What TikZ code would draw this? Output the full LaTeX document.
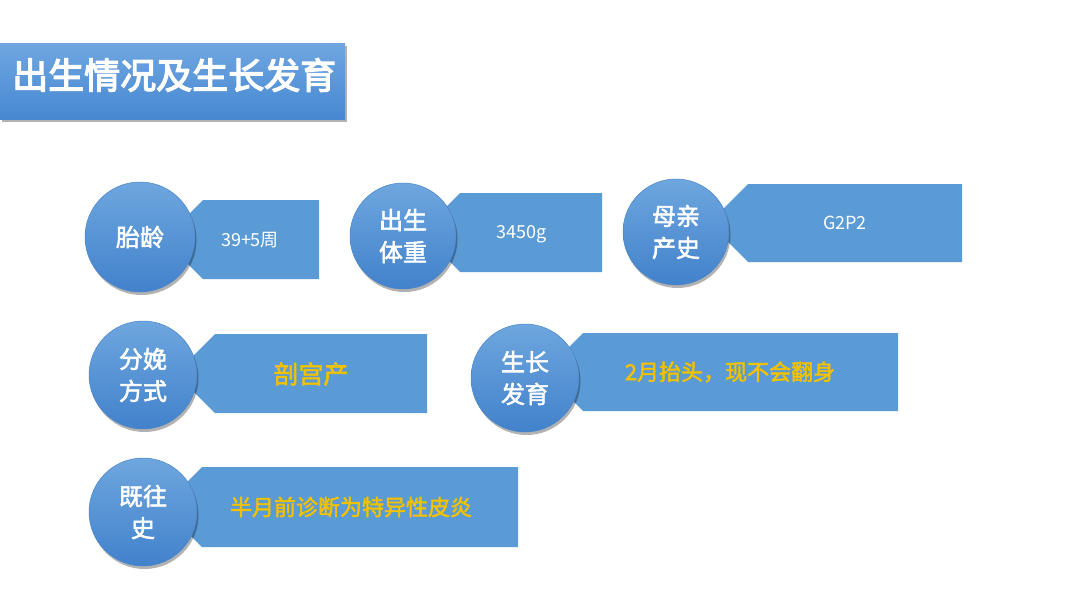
\documentclass[tikz,border=0pt]{standalone}
\usepackage{fontspec}
\setmainfont{Noto Sans CJK SC}
\newfontfamily\cjkbold{Noto Sans CJK SC}[FakeBold=2.2]
\newfontfamily\cjkheavy{Noto Sans CJK SC}[FakeBold=3.5]
\usetikzlibrary{shadows}
\definecolor{bannerblue}{RGB}{91,155,213}
\definecolor{discTop}{RGB}{110,166,222}
\definecolor{discBot}{RGB}{66,130,204}
\definecolor{discEdge}{RGB}{74,134,202}
\definecolor{titleTop}{RGB}{112,166,224}
\definecolor{titleBot}{RGB}{70,136,210}
\definecolor{gold}{RGB}{242,194,0}
\tikzset{
  banner/.style={fill=bannerblue},
  disc/.style={circle, minimum size=#1, inner sep=0pt, top color=discTop, bottom color=discBot,
    draw=discEdge, line width=0.5pt,
    drop shadow={shadow xshift=1.5pt, shadow yshift=-3pt, opacity=0.3, fill=black},
    text=white, font=\cjkbold\fontsize{24}{32}\selectfont, align=center},
  plain/.style={text=white, font=\fontsize{18}{20}\selectfont},
  goldtxt/.style={text=gold, font=\cjkbold\fontsize{#1}{26}\selectfont},
}
\begin{document}
\begin{tikzpicture}[x=1pt,y=-1pt]
\useasboundingbox[fill=white] (0,0) rectangle (1080,608);
% title
\node[draw=none, minimum width=345pt, minimum height=76pt, anchor=north west, inner sep=0pt,
  top color=titleTop, bottom color=titleBot,
  drop shadow={shadow xshift=2pt, shadow yshift=-3pt, opacity=0.3, fill=black}] (title) at (0,43) {};
\node[anchor=west, text=white, font=\cjkheavy\fontsize{36}{40}\selectfont, inner sep=0pt] (titletext) at (12,75) {出生情况及生长发育};

% banners
\fill[banner] (203,200) -- (319,200) -- (319,279) -- (203,279) -- (163.5,239.5) -- cycle;
\fill[banner] (460,193) -- (602,193) -- (602,272) -- (460,272) -- (420.5,232.5) -- cycle;
\fill[banner] (748,184) -- (962,184) -- (962,262) -- (748,262) -- (709,223) -- cycle;
\fill[banner] (215,334) -- (427,334) -- (427,413) -- (215,413) -- (175.5,373.5) -- cycle;
\fill[banner] (583,333) -- (898,333) -- (898,411) -- (583,411) -- (544,372) -- cycle;
\fill[banner] (202,467) -- (518,467) -- (518,547) -- (202,547) -- (162,507) -- cycle;

% circles
\node[disc=110pt] (c1) at (140,237) {胎龄};
\node[disc=106pt] (c2) at (403,236) {出生\\体重};
\node[disc=106pt] (c3) at (676,232) {母亲\\产史};
\node[disc=108pt] (c4) at (143,375) {分娩\\方式};
\node[disc=108pt] (c5) at (525,378) {生长\\发育};
\node[disc=108pt] (c6) at (143,512) {既往\\史};

% texts
\node[plain] (t1) at (250,240) {39+5周};
\node[plain] (t2) at (522,234) {3450g};
\node[plain] (t3) at (845,223) {G2P2};
\node[goldtxt=25] (t4) at (311,374) {剖宫产};
\node[goldtxt=22] (t5) at (730,372) {2月抬头，现不会翻身};
\node[goldtxt=22] (t6) at (351,507) {半月前诊断为特异性皮炎};
\end{tikzpicture}
\end{document}
